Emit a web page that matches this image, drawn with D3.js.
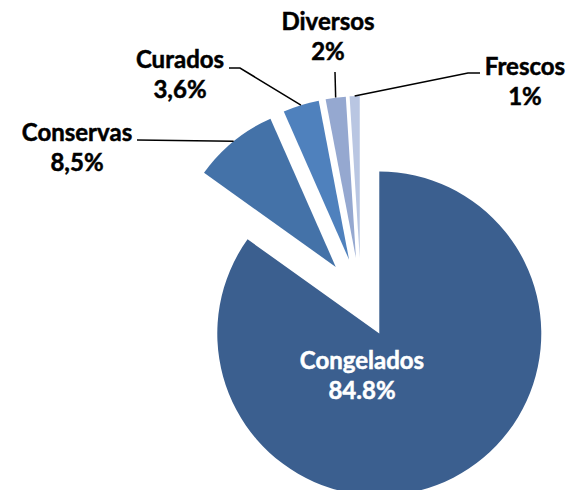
<!DOCTYPE html>
<html>
<head>
<meta charset="utf-8">
<script src="https://cdn.jsdelivr.net/npm/d3@7"></script>
<style>
  body { margin: 0; background: #fff; }
  text { font-family: Lato, "Open Sans", sans-serif; font-weight: bold; }
</style>
</head>
<body>
<script>
// datos
const categorias = ["Congelados", "Conservas", "Curados", "Diversos", "Frescos"];
const valores = [84.8, 8.5, 3.6, 2, 1];
const etiquetas = ["84.8%", "8,5%", "3,6%", "2%", "1%"];
const colores = ["#3b5f8f", "#4472a8", "#4f81bd", "#95a8d0", "#b9c6e2"];

const width = 569, height = 490;
const cx = 361, cy = 298, radio = 162, explode = 40;

const svg = d3.select("body").append("svg")
  .attr("width", width)
  .attr("height", height);

const pie = d3.pie().sort(null).value(d => d.v);
const arc = d3.arc().innerRadius(0).outerRadius(radio);
const borde = d3.arc().innerRadius(radio).outerRadius(radio);

const datos = categorias.map((c, i) => ({ c: c, v: valores[i], p: etiquetas[i], color: colores[i] }));
const arcos = pie(datos);

// desplazamiento de cada porcion
function offset(d) {
  const a = (d.startAngle + d.endAngle) / 2;
  return [cx + explode * Math.sin(a), cy - explode * Math.cos(a)];
}

const g = svg.append("g");

g.selectAll("path")
  .data(arcos)
  .enter()
  .append("path")
  .attr("transform", d => "translate(" + offset(d) + ")")
  .attr("d", arc)
  .attr("fill", d => d.data.color);

// etiquetas: posicion del texto y codo de la linea guia
const posEtiqueta = [
  { x: 362, y: 369, codo: null },
  { x: 77, y: 141, codo: [[137, 140]] },
  { x: 180, y: 68, codo: [[240, 68], [229, 68]] },
  { x: 328, y: 30, codo: [[335, 72]] },
  { x: 525, y: 75, codo: [[468, 73], [480, 73]] }
];

arcos.forEach((d, i) => {
  const pos = posEtiqueta[i];
  if (pos.codo) {
    const o = offset(d);
    const c = borde.centroid(d);
    const puntos = [[o[0] + c[0], o[1] + c[1]]].concat(pos.codo);
    svg.append("path")
      .attr("d", d3.line()(puntos))
      .attr("fill", "none")
      .attr("stroke", "#000")
      .attr("stroke-width", 1.5);
  }
  const color = i === 0 ? "#fff" : "#000";
  const t = svg.append("text")
    .attr("text-anchor", "middle")
    .attr("font-size", "24px")
    .attr("fill", color)
    .attr("stroke", color)
    .attr("stroke-width", 0.5);
  t.append("tspan").attr("x", pos.x).attr("y", pos.y).text(d.data.c);
  t.append("tspan").attr("x", pos.x).attr("y", pos.y + 30).text(d.data.p);
});
</script>
</body>
</html>
